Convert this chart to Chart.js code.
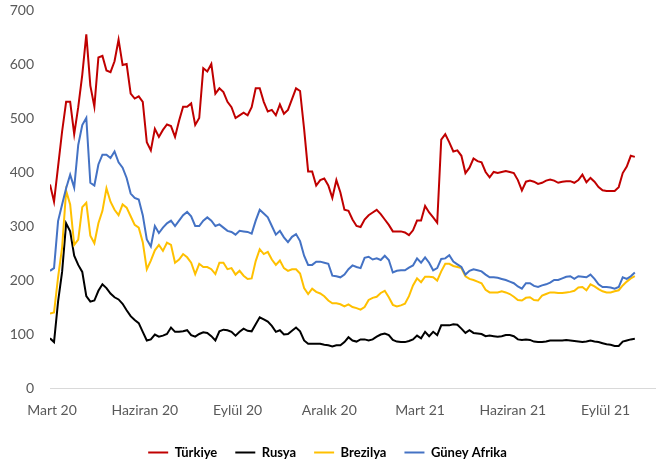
<!DOCTYPE html>
<html lang="tr">
<head>
    <meta charset="UTF-8">
    <title>CDS</title>
    <style>
        body {
            margin: 0;
            background: #fff;
        }
        .wrap {
            width: 658px;
            height: 467px;
        }
    </style>
    <script src="https://cdn.jsdelivr.net/npm/chart.js"></script>
</head>
<body>

<div class="wrap"><canvas id="cdsChart"></canvas></div>

<script>
    // days counted from 1 March 2020, one value every 4 days
    const startDay = -2;
    const stepDays = 4;

    const tickDays = [0, 92, 184, 275, 365, 457, 549];
    const tickLabels = ['Mart 20', 'Haziran 20', 'Eylül 20', 'Aralık 20', 'Mart 21', 'Haziran 21', 'Eylül 21'];

    const seriesNames = ['Türkiye', 'Rusya', 'Brezilya', 'Güney Afrika'];

    const turkiye = [
        377, 345, 410, 475, 530, 530, 470, 520, 580, 655,
        560, 521, 612, 615, 588, 585, 605, 645, 598, 600,
        545, 536, 540, 530, 455, 440, 480, 465, 478, 488,
        485, 465, 495, 521, 521, 527, 487, 500, 592, 586,
        600, 545, 555, 548, 530, 520, 500, 505, 510, 505,
        520, 555, 555, 530, 512, 515, 505, 525, 508, 515,
        535, 555, 550, 480, 401, 401, 375, 385, 388, 375,
        352, 385, 362, 330, 328, 312, 300, 298, 312, 320,
        325, 330, 322, 312, 302, 290, 290, 290, 288, 283,
        292, 310, 310, 337, 325, 316, 306, 460, 470, 455,
        438, 440, 430, 398, 408, 425, 420, 418, 400, 390,
        400, 398, 400, 402, 400, 398, 385, 366, 382, 384,
        382, 378, 380, 384, 386, 384, 380, 382, 383, 383,
        380, 385, 395, 381, 389, 382, 372, 366, 365, 365,
        365, 372, 398, 410, 430, 428
    ];
    const rusya = [
        92, 85, 160, 215, 305, 290, 245, 228, 215, 170,
        160, 162, 180, 192, 185, 175, 168, 164, 156, 144,
        133, 126, 120, 104, 88, 90, 99, 95, 97, 100,
        112, 104, 104, 105, 107, 98, 95, 100, 103, 102,
        96, 88, 105, 108, 107, 104, 97, 104, 110, 106,
        105, 118, 131, 127, 123, 115, 104, 107, 99, 100,
        106, 112, 105, 88, 82, 82, 82, 82, 80, 79,
        77, 79, 79, 85, 94, 88, 86, 90, 90, 88,
        90, 95, 99, 101, 98, 89, 86, 85, 85, 87,
        90, 97, 92, 104, 96, 104, 98, 116, 116, 116,
        118, 117, 110, 102, 107, 102, 101, 100, 96, 97,
        96, 95, 96, 98, 98, 96, 90, 89, 90, 89,
        86, 85, 85, 86, 88, 88, 88, 88, 89, 88,
        87, 86, 85, 86, 88, 86, 85, 83, 81, 80,
        78, 78, 86, 88, 90, 91
    ];
    const brezilya = [
        138, 140, 205, 260, 365, 340, 265, 275, 335, 343,
        282, 268, 305, 328, 370, 345, 330, 320, 340, 334,
        318, 302, 297, 270, 220, 236, 255, 265, 254, 269,
        265, 232, 238, 248, 242, 232, 211, 230, 224, 224,
        220, 211, 232, 232, 220, 222, 210, 217, 208, 202,
        203, 235, 257, 248, 252, 238, 228, 236, 222, 217,
        220, 220, 212, 185, 174, 184, 178, 175, 170, 162,
        157, 157, 155, 151, 155, 150, 148, 145, 150, 163,
        167, 169, 176, 180, 168, 154, 151, 153, 156, 170,
        190, 203, 196, 206, 206, 205, 199, 216, 230, 230,
        226, 224, 222, 207, 202, 200, 197, 194, 182, 177,
        177, 177, 179, 177, 174, 169, 163, 162, 167, 168,
        163, 162, 171, 174, 177, 177, 176, 176, 177, 178,
        180, 186, 187, 181, 192, 188, 183, 179, 177, 177,
        179, 181, 190, 197, 203, 207
    ];
    const guneyAfrika = [
        217, 222, 309, 340, 370, 395, 371, 450, 487, 500,
        380, 375, 414, 432, 432, 426, 438, 418, 408, 389,
        360, 352, 349, 320, 275, 262, 300, 287, 297, 305,
        310, 300, 310, 320, 326, 318, 300, 300, 310, 316,
        310, 300, 303, 297, 291, 289, 284, 291, 290, 289,
        286, 310, 330, 323, 316, 300, 284, 291, 279, 270,
        280, 285, 272, 245, 228, 228, 234, 234, 232, 230,
        208, 207, 205, 210, 220, 227, 224, 222, 241, 243,
        238, 240, 237, 245, 237, 214, 217, 218, 218, 223,
        227, 240, 232, 242, 232, 218, 222, 239, 240, 246,
        234, 229, 224, 210, 217, 220, 218, 216, 210, 205,
        205, 204, 202, 200, 197, 194, 188, 184, 194, 194,
        189, 187, 190, 192, 195, 200, 200, 203, 206, 207,
        202, 207, 206, 205, 210, 202, 192, 187, 187, 186,
        184, 187, 205, 202, 207, 214
    ];

    const seriesColors = ['#C00000', '#000000', '#FFC000', '#4472C4'];
    const allSeries = [turkiye, rusya, brezilya, guneyAfrika];

    function toPoints(values) {
        return values.map((v, i) => ({ x: startDay + i * stepDays, y: v }));
    }

    Chart.defaults.font.family = 'Lato, "Open Sans", sans-serif';

    const ctx = document.getElementById('cdsChart').getContext('2d');
    const cdsChart = new Chart(ctx, {
        type: 'line',
        data: {
            datasets: allSeries.map((values, k) => ({
                label: seriesNames[k],
                data: toPoints(values),
                borderColor: seriesColors[k],
                backgroundColor: seriesColors[k],
                borderWidth: 2,
                pointRadius: 0,
                tension: 0,
                order: allSeries.length - k   // later series drawn on top
            }))
        },
        options: {
            responsive: true,
            maintainAspectRatio: false,
            animation: false,
            layout: {
                padding: { top: 10, right: 3, left: 0, bottom: -2 }
            },
            scales: {
                x: {
                    type: 'linear',
                    min: -2,
                    max: 598,
                    grid: { display: false, drawTicks: false },
                    border: { display: true, color: '#d9d9d9', width: 1 },
                    afterBuildTicks: (scale) => {
                        scale.ticks = tickDays.map(v => ({ value: v }));
                    },
                    afterFit: (scale) => { scale.height = 40; },
                    ticks: {
                        autoSkip: false,
                        maxRotation: 0,
                        padding: 14,
                        color: '#595959',
                        font: { size: 14 },
                        callback: (value) => tickLabels[tickDays.indexOf(value)]
                    }
                },
                y: {
                    min: 0,
                    max: 700,
                    grid: { display: false, drawTicks: false },
                    border: { display: false },
                    afterFit: (scale) => {
                        scale.width = 50;
                        scale.paddingTop = 0;
                    },
                    ticks: {
                        stepSize: 100,
                        padding: 16,
                        color: '#595959',
                        font: { size: 14 }
                    }
                }
            },
            plugins: {
                legend: {
                    position: 'bottom',
                    labels: {
                        usePointStyle: true,
                        pointStyle: 'line',
                        pointStyleWidth: 20,
                        padding: 18,
                        color: '#000',
                        font: { size: 13, weight: 'bold' },
                        sort: (a, b) => a.datasetIndex - b.datasetIndex
                    }
                },
                tooltip: { enabled: false }
            }
        }
    });
</script>

</body>
</html>
